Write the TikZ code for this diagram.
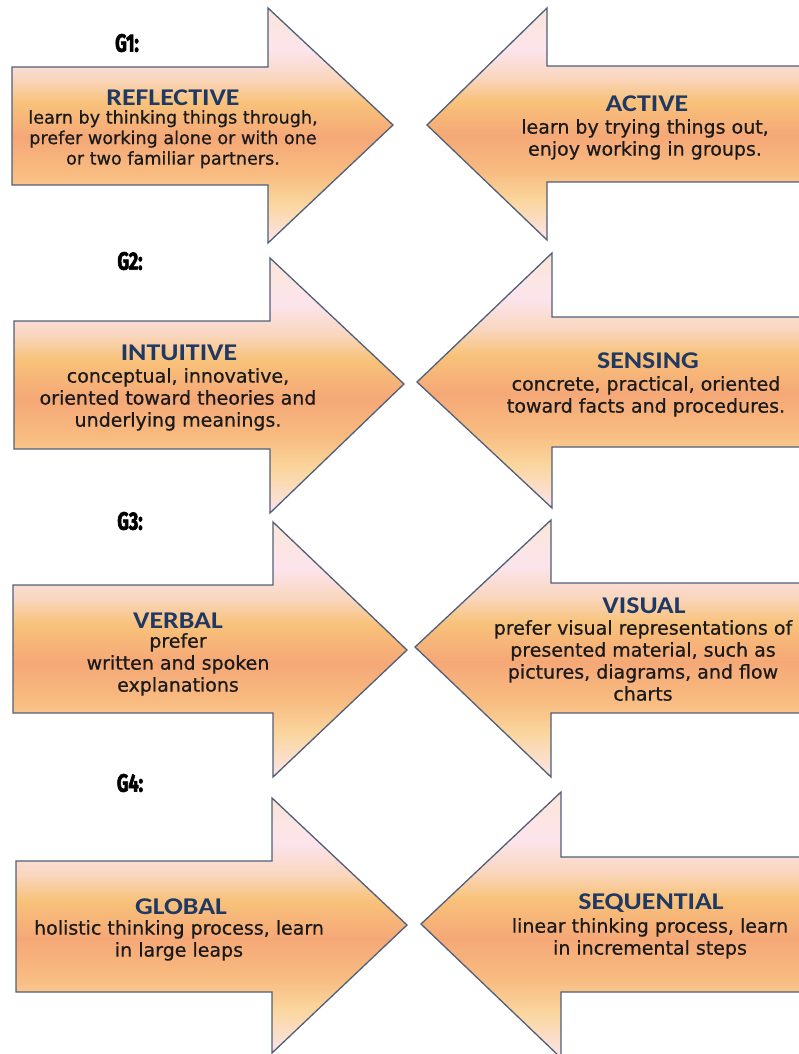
\documentclass[tikz,border=0pt]{standalone}
\usepackage{fontspec}
\setmainfont[FakeBold=0.6]{DejaVu Sans}
\newfontfamily\headfont[FakeStretch=1.16]{Carlito}
\newfontfamily\gfont[FakeStretch=0.72,FakeBold=2.5]{Fira Sans}
\definecolor{ca}{HTML}{FBE6D8}
\definecolor{cb}{HTML}{FCE4EC}
\definecolor{cc}{HTML}{F9D6BE}
\definecolor{cd}{HTML}{F8C27A}
\definecolor{ce}{HTML}{F5A877}
\definecolor{cf}{HTML}{F8BB80}
\definecolor{cg}{HTML}{FAD69E}
\definecolor{ch}{HTML}{FCE4EA}
\definecolor{outl}{HTML}{505F78}
\definecolor{headc}{HTML}{1F3864}
\definecolor{bodyc}{HTML}{1A1A1A}
\pgfdeclareverticalshading{peach}{100bp}{color(0bp)=(ch); color(25bp)=(ch); color(33.5bp)=(cg); color(40bp)=(cf); color(47.5bp)=(ce); color(55bp)=(cd); color(60bp)=(cc); color(66bp)=(cb); color(75bp)=(ca); color(100bp)=(ca)}
\tikzset{
  bigarrow/.style={draw=outl, line width=1.3pt, line join=miter, shading=peach},
  headtxt/.style={inner sep=0pt, text=headc, font=\headfont\bfseries\fontsize{24}{26}\selectfont},
  bodytxt/.style={inner sep=0pt, align=center, text=bodyc, font=\fontsize{19}{22}\selectfont},
  glabel/.style={inner sep=0pt, font=\gfont\bfseries\fontsize{25}{27}\selectfont}
}
\begin{document}
\begin{tikzpicture}[x=1pt,y=-1pt]
\useasboundingbox (0,0) rectangle (799,1054);
\clip (0,0) rectangle (799,1054);
% row 1
\path[bigarrow] (12,67) -- (268,67) -- (268,8) -- (393,125) -- (268,243) -- (268,185) -- (12,185) -- cycle;
\path[bigarrow] (812,66) -- (547,66) -- (547,8) -- (427,125) -- (547,240) -- (547,182) -- (812,182) -- cycle;
% row 2
\path[bigarrow] (14,321) -- (270,321) -- (270,258) -- (404,384) -- (270,513) -- (270,449) -- (14,449) -- cycle;
\path[bigarrow] (812,317) -- (552,317) -- (552,253) -- (417,382) -- (552,508) -- (552,447) -- (812,447) -- cycle;
% row 3
\path[bigarrow] (13,585) -- (273,585) -- (273,522) -- (407,650) -- (273,777) -- (273,713) -- (13,713) -- cycle;
\path[bigarrow] (812,583) -- (551,583) -- (551,520) -- (415,647) -- (551,777) -- (551,713) -- (812,713) -- cycle;
% row 4
\path[bigarrow] (16,861) -- (272,861) -- (272,798) -- (407,925) -- (272,1053) -- (272,992) -- (16,992) -- cycle;
\path[bigarrow] (812,857) -- (561,857) -- (561,792) -- (421,924) -- (561,1058) -- (561,992) -- (812,992) -- cycle;

% group labels
\node[glabel] (g1) at (127,43) {G1:};
\node[glabel] (g2) at (130,261) {G2:};
\node[glabel] (g3) at (130,521) {G3:};
\node[glabel] (g4) at (130,783) {G4:};

% texts
\node[headtxt] (reflh) at (173,98) {REFLECTIVE};
\node[bodytxt, font=\fontsize{17.6}{20.5}\selectfont, anchor=north] (reflb) at (173,110) {learn by thinking things through,\\prefer working alone or with one\\or two familiar partners.};

\node[headtxt] (acth) at (647,104) {ACTIVE};
\node[bodytxt, anchor=north] (actb) at (645,119) {learn by trying things out,\\enjoy working in groups.};

\node[headtxt] (intuh) at (179,353) {INTUITIVE};
\node[bodytxt, anchor=north] (intub) at (178,368) {conceptual, innovative,\\oriented toward theories and\\underlying meanings.};

\node[headtxt] (sensh) at (648,361) {SENSING};
\node[bodytxt, anchor=north] (sensb) at (646,376) {concrete, practical, oriented\\toward facts and procedures.};

\node[headtxt] (verbh) at (178,621) {VERBAL};
\node[bodytxt, anchor=north] (verbb) at (178,633) {prefer\\written and spoken\\explanations};

\node[headtxt] (vish) at (644,606) {VISUAL};
\node[bodytxt, anchor=north] (visb) at (643,620) {prefer visual representations of\\presented material, such as\\pictures, diagrams, and flow\\charts};

\node[headtxt] (globh) at (181,907) {GLOBAL};
\node[bodytxt, anchor=north] (globb) at (179,920) {holistic thinking process, learn\\in large leaps};

\node[headtxt] (seqh) at (651,903) {SEQUENTIAL};
\node[bodytxt, anchor=north] (seqb) at (650,918) {linear thinking process, learn\\in incremental steps};
\end{tikzpicture}
\end{document}
